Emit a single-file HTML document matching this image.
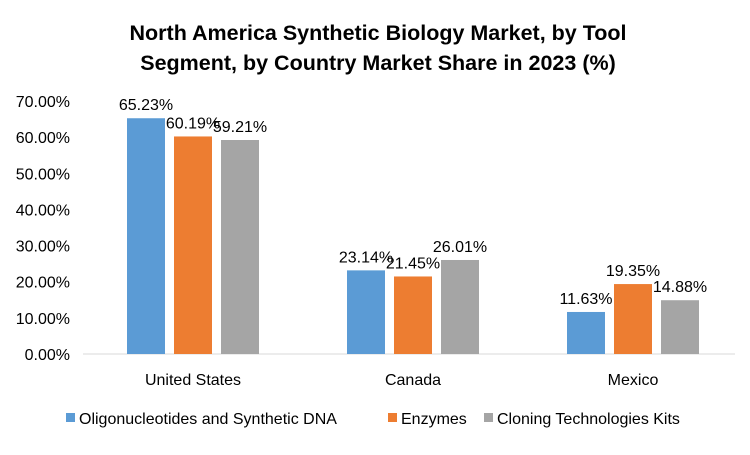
<!DOCTYPE html>
<html><head><meta charset="utf-8"><style>
body{margin:0;background:#fff;font-family:"Liberation Sans",sans-serif;}
svg text{font-family:"Liberation Sans",sans-serif;}
</style></head><body>
<svg width="750" height="450" viewBox="0 0 750 450">
<text x="378" y="40" text-anchor="middle" font-size="21.5" font-weight="bold" fill="#000">North America Synthetic Biology Market, by Tool</text>
<text x="378" y="70" text-anchor="middle" font-size="21.5" font-weight="bold" fill="#000">Segment, by Country Market Share in 2023 (%)</text>
<g id="axis"></g><g id="bars"></g>
<g id="legend"></g>
</svg>
<script>
const categories=["United States","Canada","Mexico"];
const seriesNames=["Oligonucleotides and Synthetic DNA","Enzymes","Cloning Technologies Kits"];
const oligo=[65.23,23.14,11.63];
const enzymes=[60.19,21.45,19.35];
const cloning=[59.21,26.01,14.88];
const yTicks=[0,10,20,30,40,50,60,70];
const colors=["#5B9BD5","#ED7D31","#A5A5A5"];
const series=[oligo,enzymes,cloning];
const NS="http://www.w3.org/2000/svg";
const y0=354,yTop=101,yMax=70,xL=83,xR=743;
const y=v=>y0-(v/yMax)*(y0-yTop);
const groupW=(xR-xL)/categories.length;
const barW=38,step=47;
const x=(ci,si)=>xL+groupW*ci+groupW/2+(si-1)*step-barW/2;
function mk(tag,attrs,parent){const e=document.createElementNS(NS,tag);for(const k in attrs)e.setAttribute(k,attrs[k]);parent.appendChild(e);return e;}
const ax=document.getElementById('axis');
yTicks.forEach(t=>{const tx=mk('text',{x:70,y:y(t)+6,'text-anchor':'end','font-size':16,fill:'#000'},ax);tx.textContent=t.toFixed(2)+'%';

});
const base=mk('line',{x1:xL,x2:xR-8,y1:y0,y2:y0,stroke:'#d9d9d9','stroke-width':1},ax);


categories.forEach((c,ci)=>{const tx=mk('text',{x:xL+groupW*ci+groupW/2,y:385,'text-anchor':'middle','font-size':16,fill:'#000'},ax);tx.textContent=c;

});
const bg=document.getElementById('bars');
series.forEach((s,si)=>s.forEach((v,ci)=>{
const r=mk('rect',{x:x(ci,si),y:y(v),width:barW,height:y0-y(v),fill:colors[si]},bg);


const t=mk('text',{x:x(ci,si)+barW/2,y:y(v)-8,'text-anchor':'middle','font-size':16,fill:'#000'},bg);t.textContent=v.toFixed(2)+'%';


}));
const lg=document.getElementById('legend');
const lx=[66,388,484];
seriesNames.forEach((n,i)=>{const g=mk('g',{},lg);


mk('rect',{x:lx[i],y:413,width:9,height:9,fill:colors[i]},g);
const t=mk('text',{x:lx[i]+13,y:424,'font-size':16,fill:'#000'},g);t.textContent=n;});
</script>
</body></html>
